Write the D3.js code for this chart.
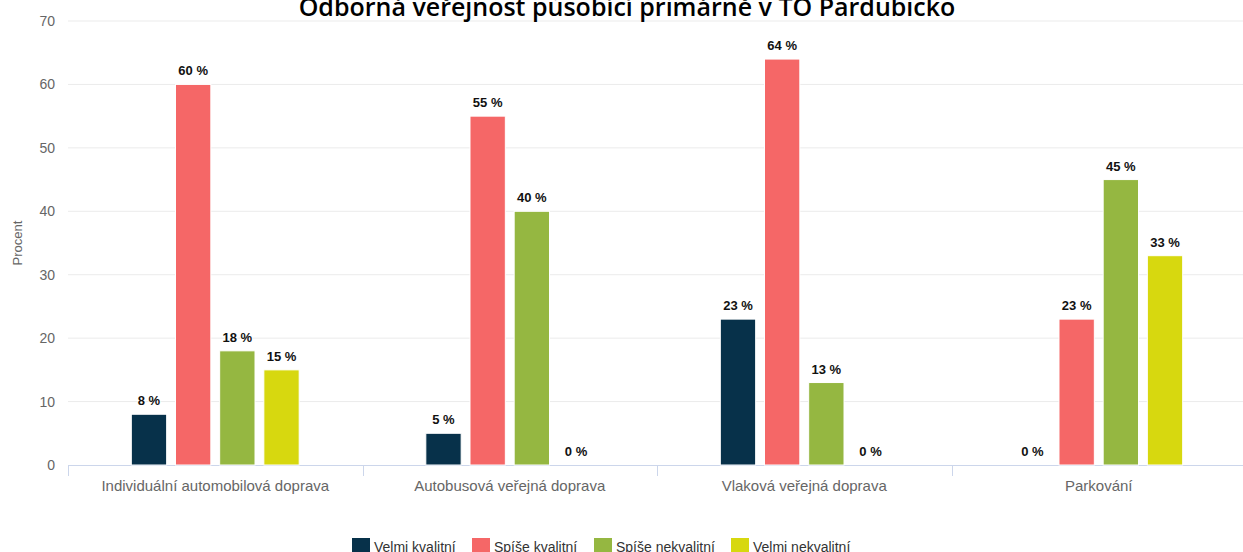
<!DOCTYPE html>
<html>
<head>
<meta charset="utf-8">
<script src="https://cdn.jsdelivr.net/npm/d3@7"></script>
<style>
  html, body { margin: 0; padding: 0; background: #fff; }
  svg { display: block; }
</style>
</head>
<body>
<svg id="chart" width="1243" height="552"></svg>
<script>
// Survey answers per transport area (percent of respondents)
const categories = [
  "Individuální automobilová doprava",
  "Autobusová veřejná doprava",
  "Vlaková veřejná doprava",
  "Parkování"
];
const seriesNames = ["Velmi kvalitní", "Spíše kvalitní", "Spíše nekvalitní", "Velmi nekvalitní"];
const seriesColors = ["#07314a", "#f56767", "#95b741", "#d7d80f"];
const velmiKvalitni   = [8, 5, 23, 0];
const spiseKvalitni   = [60, 55, 64, 23];
const spiseNekvalitni = [18, 40, 13, 45];
const velmiNekvalitni = [15, 0, 0, 33];
const yTicks = [0, 10, 20, 30, 40, 50, 60, 70];
const titleText = "Odborná veřejnost působící primárně v TO Pardubicko";
const yTitle = "Procent";

const seriesValues = [velmiKvalitni, spiseKvalitni, spiseNekvalitni, velmiNekvalitni];

const svg = d3.select("#chart");
const plot = { left: 68, right: 1246, top: 21, bottom: 465 };

const x0 = d3.scaleBand().domain(categories).range([plot.left, plot.right]).padding(0);
const groupPad = 0.2 * x0.bandwidth();
const x1 = d3.scaleBand().domain(seriesNames)
  .range([groupPad, x0.bandwidth() - groupPad])
  .paddingInner(0.2).paddingOuter(0.1);
const y = d3.scaleLinear().domain([0, 70]).range([plot.bottom, plot.top]);

// horizontal grid lines
svg.append("g")
  .selectAll("line")
  .data(yTicks.filter(t => t > 0))
  .join("line")
  .attr("x1", plot.left).attr("x2", plot.right)
  .attr("y1", d => y(d)).attr("y2", d => y(d))
  .attr("stroke", "#ebebeb").attr("stroke-width", 1);

// y axis labels
const yAxis = d3.axisLeft(y).tickValues(yTicks).tickSize(0).tickPadding(0);
const gy = svg.append("g").attr("transform", `translate(${plot.left - 13},0)`).call(yAxis);
gy.select(".domain").remove();
gy.selectAll("text")
  .attr("fill", "#666")
  .style("font-family", "'Liberation Sans', Arial, sans-serif")
  .style("font-size", "14px");

// y axis title
svg.append("text")
  .attr("transform", `translate(22,${(plot.top + plot.bottom) / 2}) rotate(-90)`)
  .attr("text-anchor", "middle")
  .attr("fill", "#666")
  .style("font-family", "'Liberation Sans', Arial, sans-serif")
  .style("font-size", "13px")
  .text(yTitle);

// x axis with category boundary ticks
const gx = svg.append("g").attr("transform", `translate(0,${plot.bottom})`);
gx.append("line")
  .attr("x1", plot.left).attr("x2", plot.right)
  .attr("y1", 0.5).attr("y2", 0.5)
  .attr("stroke", "#ccd6eb");
const boundaries = categories.map(c => x0(c)).concat([plot.right]);
gx.selectAll("line.tick")
  .data(boundaries)
  .join("line")
  .attr("class", "tick")
  .attr("x1", d => Math.round(d) + 0.5).attr("x2", d => Math.round(d) + 0.5)
  .attr("y1", 0).attr("y2", 11)
  .attr("stroke", "#ccd6eb");
gx.selectAll("text")
  .data(categories)
  .join("text")
  .attr("x", d => x0(d) + x0.bandwidth() / 2)
  .attr("y", 26)
  .attr("text-anchor", "middle")
  .attr("fill", "#666")
  .style("font-family", "'Liberation Sans', Arial, sans-serif")
  .style("font-size", "15px")
  .text(d => d);

// bars
const rows = categories.map((c, i) => ({
  category: c,
  values: seriesNames.map((s, j) => ({ series: s, color: seriesColors[j], value: seriesValues[j][i] }))
}));

const groups = svg.append("g")
  .selectAll("g")
  .data(rows)
  .join("g")
  .attr("transform", d => `translate(${x0(d.category)},0)`);

groups.selectAll("rect")
  .data(d => d.values)
  .join("rect")
  .attr("x", d => x1(d.series))
  .attr("y", d => y(d.value))
  .attr("width", x1.bandwidth())
  .attr("height", d => y(0) - y(d.value))
  .attr("fill", d => d.color)
  .attr("stroke", "#fff")
  .attr("stroke-width", 1);

// value labels
groups.selectAll("text")
  .data(d => d.values)
  .join("text")
  .attr("x", d => x1(d.series) + x1.bandwidth() / 2)
  .attr("y", d => y(d.value) - 9)
  .attr("text-anchor", "middle")
  .attr("fill", "#111")
  .attr("stroke", "#fff")
  .attr("stroke-width", 2)
  .attr("paint-order", "stroke")
  .style("font-family", "'Liberation Sans', Arial, sans-serif")
  .style("font-size", "13px")
  .style("font-weight", "bold")
  .text(d => `${d.value} %`);

// title
svg.append("text")
  .attr("x", 627)
  .attr("y", 16)
  .attr("text-anchor", "middle")
  .attr("fill", "#000")
  .style("font-family", "'Open Sans', sans-serif")
  .style("font-size", "25px")
  .style("font-weight", "600")
  .text(titleText);

// legend
const legendX = [352, 472, 594, 731];
const legend = svg.append("g")
  .selectAll("g")
  .data(seriesNames)
  .join("g")
  .attr("transform", (d, i) => `translate(${legendX[i]},538)`);
legend.append("rect")
  .attr("width", 18).attr("height", 18)
  .attr("fill", (d, i) => seriesColors[i]);
legend.append("text")
  .attr("x", 22)
  .attr("y", 14)
  .attr("fill", "#333")
  .style("font-family", "'Liberation Sans', Arial, sans-serif")
  .style("font-size", "14px")
  .text(d => d);
</script>
</body>
</html>
